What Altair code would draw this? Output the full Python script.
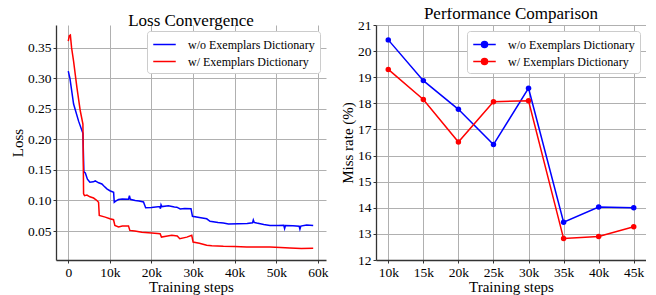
import altair as alt
import pandas as pd

# ---------------- data ----------------
series_names = ["w/o Exemplars Dictionary", "w/ Exemplars Dictionary"]
series_colors = ["#0000ff", "#ff0000"]

loss_wo_steps = [0, 400, 1280, 2480, 3520, 3750, 4100, 4600, 5200, 6000, 6480, 7300, 8080, 8500, 9280,
                 10000, 10900, 11050, 11400, 12080, 13000, 14480, 14700, 14900, 16080, 17000, 18080,
                 18600, 20000, 22000, 22150, 22300, 22500, 24080, 25500, 26080, 26900, 28000, 29500,
                 29850, 31500, 33280, 34080, 36000, 37280, 38500, 40880, 43000, 44300, 44480, 44700,
                 45300, 47000, 48480, 50500, 51800, 52000, 52200, 54000, 55500, 55680, 55900, 57300, 58870]
loss_wo_values = [0.312, 0.300, 0.258, 0.230, 0.210, 0.147, 0.145, 0.135, 0.130, 0.1305, 0.132, 0.129,
                  0.127, 0.124, 0.119, 0.116, 0.1136, 0.097, 0.099, 0.1015, 0.1025, 0.1020, 0.108, 0.102,
                  0.100, 0.099, 0.0975, 0.088, 0.0885, 0.0900, 0.0865, 0.093, 0.090, 0.0913, 0.0895,
                  0.089, 0.0860, 0.087, 0.0865, 0.074, 0.072, 0.070, 0.066, 0.064, 0.063, 0.0615, 0.062,
                  0.0625, 0.0635, 0.068, 0.064, 0.063, 0.0605, 0.059, 0.059, 0.0595, 0.054, 0.059,
                  0.0585, 0.0577, 0.053, 0.058, 0.060, 0.059]

loss_w_steps = [0, 250, 500, 800, 1280, 2080, 2880, 3520, 3680, 3900, 4480, 5200, 6080, 6880, 7280, 7450,
                8880, 10000, 10880, 11200, 12080, 13000, 14480, 14800, 16000, 17680, 20080, 22080, 22400,
                23500, 24880, 26200, 26800, 28500, 29680, 30000, 31500, 33280, 34500, 37280, 40000, 42880,
                45500, 48480, 51000, 53280, 56000, 58870]
loss_w_values = [0.361, 0.370, 0.371, 0.350, 0.328, 0.285, 0.247, 0.225, 0.111, 0.108, 0.109, 0.106,
                 0.104, 0.100, 0.097, 0.0755, 0.0728, 0.070, 0.0685, 0.059, 0.0565, 0.058, 0.058, 0.051,
                 0.050, 0.048, 0.0467, 0.0457, 0.040, 0.0415, 0.043, 0.042, 0.0375, 0.040, 0.043, 0.032,
                 0.030, 0.0267, 0.026, 0.025, 0.0245, 0.024, 0.0238, 0.024, 0.023, 0.0223, 0.0215, 0.0218]

perf_steps = [10000, 15000, 20000, 25000, 30000, 35000, 40000, 45000]
perf_wo = [20.43, 18.87, 17.77, 16.42, 18.58, 13.45, 14.03, 14.00]
perf_w = [19.30, 18.15, 16.52, 18.06, 18.10, 12.82, 12.90, 13.27]

loss_x_ticks = [0, 10000, 20000, 30000, 40000, 50000, 60000]
loss_y_ticks = [0.05, 0.10, 0.15, 0.20, 0.25, 0.30, 0.35]
perf_y_ticks = [12, 13, 14, 15, 16, 17, 18, 19, 20, 21]

# ---------------- tables ----------------
loss_df = pd.concat([
    pd.DataFrame({"step": loss_wo_steps, "loss": loss_wo_values, "series": series_names[0]}),
    pd.DataFrame({"step": loss_w_steps, "loss": loss_w_values, "series": series_names[1]}),
], ignore_index=True)

perf_df = pd.concat([
    pd.DataFrame({"step": perf_steps, "miss": perf_wo, "series": series_names[0]}),
    pd.DataFrame({"step": perf_steps, "miss": perf_w, "series": series_names[1]}),
], ignore_index=True)

FONT = "Liberation Serif"
k_expr = "datum.value == 0 ? '0' : format(datum.value / 1000, 'd') + 'k'"

line_sym = "M-1.5,0L1.5,0"
line_dot_sym = "M-1.5,0L1.5,0M-0.4,0A0.4,0.4,0,1,1,0.4,0A0.4,0.4,0,1,1,-0.4,0Z"


def make_legend(symbol):
    return alt.Legend(title=None, orient="top-right", offset=6, symbolType=symbol, symbolSize=225,
                      symbolStrokeWidth=1.5, symbolOffset=4, fillColor="#ffffff", strokeColor="#cccccc",
                      cornerRadius=3, padding=5, labelFont=FONT, labelFontSize=12,
                      labelColor="#000000", labelOffset=15, rowPadding=2, labelLimit=300)


loss_chart = alt.Chart(loss_df).mark_line(strokeWidth=1.5).encode(
    x=alt.X("step:Q", title="Training steps",
            scale=alt.Scale(domain=[-2950, 61950], nice=False, zero=False),
            axis=alt.Axis(values=loss_x_ticks, labelExpr=k_expr)),
    y=alt.Y("loss:Q", title="Loss",
            scale=alt.Scale(domain=[0.0025, 0.3875], nice=False, zero=False),
            axis=alt.Axis(values=loss_y_ticks, format=".2f")),
    color=alt.Color("series:N", scale=alt.Scale(domain=series_names, range=series_colors),
                    legend=make_legend(line_sym)),
).properties(width=270, height=235, title="Loss Convergence")

perf_base = alt.Chart(perf_df).encode(
    x=alt.X("step:Q", title="Training steps",
            scale=alt.Scale(domain=[8250, 46750], nice=False, zero=False),
            axis=alt.Axis(values=perf_steps, labelExpr=k_expr)),
    y=alt.Y("miss:Q", title="Miss rate (%)",
            scale=alt.Scale(domain=[12, 21], nice=False, zero=False),
            axis=alt.Axis(values=perf_y_ticks, format="d")),
    color=alt.Color("series:N", scale=alt.Scale(domain=series_names, range=series_colors),
                    legend=make_legend(line_dot_sym)),
)
perf_chart = alt.layer(
    perf_base.mark_line(strokeWidth=1.5),
    perf_base.mark_point(filled=True, size=30, opacity=1),
).properties(width=270, height=235, title="Performance Comparison")

chart = alt.hconcat(loss_chart, perf_chart, spacing=11).resolve_scale(
    color="independent"
).resolve_legend(color="independent").properties(
    padding={"left": 2, "top": -3, "right": 0, "bottom": 0}
).configure_view(stroke=None).configure_axis(
    labelFont=FONT, labelFontSize=13.5, labelColor="#000000",
    titleFont=FONT, titleFontSize=15, titleColor="#000000", titleFontWeight="normal",
    gridColor="#b0b0b0", gridWidth=1, gridOpacity=1,
    domainColor="#333333", domainWidth=1.3,
    tickColor="#333333", tickSize=3, tickWidth=1, labelPadding=2,
).configure_axisX(titlePadding=1).configure_axisY(titlePadding=2).configure_title(
    font=FONT, fontSize=17, fontWeight="normal", color="#000000", anchor="middle",
    offset=-5, frame="group"
)

chart.save("out.html", embed_options={"renderer": "svg", "actions": False})
